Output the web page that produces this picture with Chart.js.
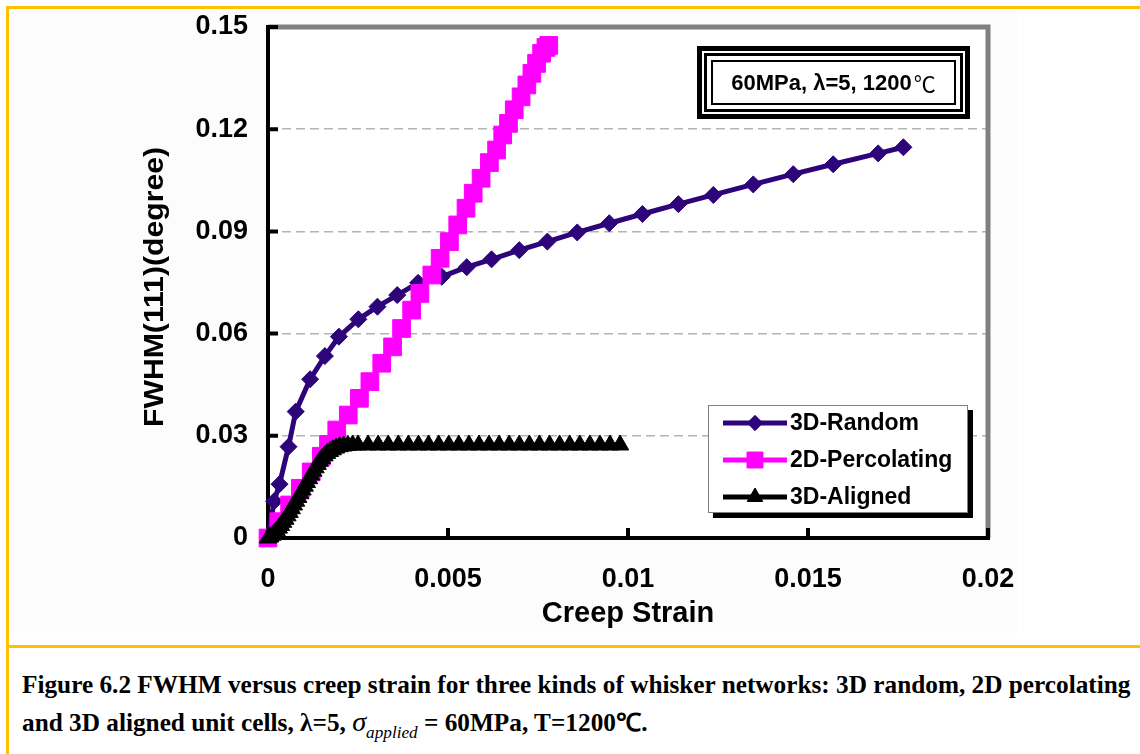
<!DOCTYPE html>
<html>
<head>
<meta charset="utf-8">
<script src="https://cdn.jsdelivr.net/npm/chart.js@4.4.1/dist/chart.umd.min.js"></script>
<style>
  html, body { margin: 0; padding: 0; background: #fff; }
  #page { position: relative; width: 1140px; height: 754px; overflow: hidden; background: #fff; }
  #chart { position: absolute; left: 0; top: 0; }
  .rule { position: absolute; background: #FFC000; }
  .cap {
    position: absolute; left: 22px; white-space: nowrap;
    font-family: 'Liberation Serif', 'Times New Roman', serif;
    font-weight: bold; font-size: 25px; line-height: 30px; color: #000;
    transform-origin: 0 50%;
  }
  .sig { font-style: italic; font-weight: normal; font-size: 28px; }
  .sub { font-style: italic; font-weight: normal; font-size: 17px; position: relative; top: 7px; }
</style>
</head>
<body>
<div id="page">
  <canvas id="chart" width="1140" height="647"></canvas>
  <div class="rule" style="left:6px;top:6px;width:1134px;height:3px"></div>
  <div class="rule" style="left:6px;top:6px;width:3px;height:748px"></div>
  <div class="rule" style="left:6px;top:645px;width:1134px;height:3px"></div>
  <div class="cap" id="cap1" style="top:670px">Figure 6.2 FWHM versus creep strain for three kinds of whisker networks: 3D random, 2D percolating</div>
  <div class="cap" id="cap2" style="top:707px">and 3D aligned unit cells, λ=5, <span class="sig">σ</span><span class="sub">applied</span> = 60MPa, T=1200℃.</div>
</div>
<script>
// Axis ticks
const xTickValues = [0, 0.005, 0.01, 0.015, 0.02];
const xTickLabels = ['0', '0.005', '0.01', '0.015', '0.02'];
const yTickValues = [0, 0.03, 0.06, 0.09, 0.12, 0.15];
const yTickLabels = ['0', '0.03', '0.06', '0.09', '0.12', '0.15'];

const seriesNames = ['3D-Random', '2D-Percolating', '3D-Aligned'];
const yAxisTitle = 'FWHM(111)(degree)';

// 3D random network
const randomStrain = [0, 0.00017, 0.00032, 0.00057, 0.00077, 0.00117, 0.00158, 0.00197, 0.00251,
  0.00304, 0.00359, 0.00417, 0.00483, 0.00552, 0.00621, 0.00698, 0.00776, 0.00859, 0.00948,
  0.01040, 0.01140, 0.01237, 0.01348, 0.01459, 0.01570, 0.01695, 0.01765];
const randomFwhm = [0, 0.0108, 0.0158, 0.0268, 0.0371, 0.0466, 0.0534, 0.0591, 0.0642,
  0.0679, 0.0713, 0.0749, 0.0767, 0.0795, 0.0818, 0.0845, 0.0870, 0.0897, 0.0924,
  0.0951, 0.0980, 0.1007, 0.1038, 0.1068, 0.1097, 0.1129, 0.1147];

// 2D percolating network
const percStrain = [0, 0.00030, 0.00060, 0.00090, 0.00120, 0.00148, 0.00168, 0.00191, 0.00223,
  0.00254, 0.00283, 0.00316, 0.00346, 0.00371, 0.00399, 0.00422, 0.00455, 0.00478, 0.00504,
  0.00527, 0.00550, 0.00570, 0.00592, 0.00615, 0.00635, 0.00652, 0.00668, 0.00684, 0.00703,
  0.00719, 0.00733, 0.00746, 0.00760, 0.00772, 0.00780];
const percFwhm = [0, 0.0048, 0.0097, 0.0146, 0.0194, 0.0240, 0.0275, 0.0317, 0.0361,
  0.0410, 0.0459, 0.0513, 0.0561, 0.0615, 0.0669, 0.0718, 0.0772, 0.0821, 0.0870,
  0.0919, 0.0968, 0.1012, 0.1056, 0.1102, 0.1139, 0.1183, 0.1217, 0.1257, 0.1295,
  0.1330, 0.1364, 0.1393, 0.1423, 0.1440, 0.1446];

// 3D aligned network
const alignedStrain = [0, 0.00006, 0.00012, 0.00018, 0.00024, 0.00030, 0.00036, 0.00042, 0.00048,
  0.00054, 0.00060, 0.00066, 0.00072, 0.00078, 0.00084, 0.00090, 0.00096, 0.00102, 0.00108,
  0.00114, 0.00120, 0.00126, 0.00132, 0.00138, 0.00144, 0.00150, 0.00157, 0.00164, 0.00172,
  0.00180, 0.00189, 0.00199, 0.00210, 0.00222, 0.00235, 0.00250, 0.00278, 0.00306, 0.00334,
  0.00362, 0.00390, 0.00418, 0.00446, 0.00474, 0.00502, 0.00530, 0.00558, 0.00586, 0.00614,
  0.00642, 0.00670, 0.00698, 0.00726, 0.00754, 0.00782, 0.00810, 0.00838, 0.00866, 0.00894,
  0.00922, 0.00950, 0.00978];
const alignedFwhm = [0, 0.0003, 0.0008, 0.0014, 0.0021, 0.0029, 0.0037, 0.0046, 0.0055,
  0.0065, 0.0075, 0.0086, 0.0097, 0.0108, 0.0119, 0.0130, 0.0141, 0.0152, 0.0163,
  0.0174, 0.0185, 0.0196, 0.0206, 0.0216, 0.0225, 0.0233, 0.0241, 0.0248, 0.0254,
  0.0259, 0.0264, 0.0268, 0.0270, 0.0272, 0.0273, 0.0273, 0.0273, 0.0273, 0.0273,
  0.0273, 0.0273, 0.0273, 0.0273, 0.0273, 0.0273, 0.0273, 0.0273, 0.0273, 0.0273,
  0.0273, 0.0273, 0.0273, 0.0273, 0.0273, 0.0273, 0.0273, 0.0273, 0.0273, 0.0273,
  0.0273, 0.0273, 0.0273];

const conditionText = '60MPa, λ=5, 1200';
const conditionUnit = '℃';

const toPoints = (xs, ys) => xs.map((x, i) => ({ x: x, y: ys[i] }));

const SANS = "'Liberation Sans', Arial, sans-serif";

const styles = [
  { color: '#2D0479', pointStyle: 'rectRot', radius: 8.5, line: 5 },
  { color: '#FF00FF', pointStyle: 'rect', radius: 12.5, line: 5 },
  { color: '#000000', pointStyle: 'triangle', radius: 10, line: 5 }
];

// Frame, inner tick marks, background, y title, condition box and legend
const framePlugin = {
  id: 'frame',
  beforeDraw(chart) {
    const ctx = chart.ctx, a = chart.chartArea;
    ctx.save();
    ctx.fillStyle = '#FCFCFC';
    ctx.fillRect(9, 9, 1008, 624);
    ctx.fillStyle = '#FFFFFF';
    ctx.fillRect(a.left, a.top, a.right - a.left, a.bottom - a.top);
    ctx.restore();
  },
  beforeDatasetsDraw(chart) {
    const ctx = chart.ctx, a = chart.chartArea;
    const xs = chart.scales.x, ys = chart.scales.y;
    ctx.save();
    ctx.lineCap = 'butt';
    // grey top and right border
    ctx.strokeStyle = '#808080';
    ctx.lineWidth = 5;
    ctx.beginPath();
    ctx.moveTo(a.left, a.top);
    ctx.lineTo(a.right, a.top);
    ctx.lineTo(a.right, a.bottom);
    ctx.stroke();
    // black axes
    ctx.strokeStyle = '#000';
    ctx.lineWidth = 4;
    ctx.beginPath();
    ctx.moveTo(a.left, a.top - 2);
    ctx.lineTo(a.left, a.bottom);
    ctx.lineTo(a.right + 2, a.bottom);
    ctx.stroke();
    // inward tick marks
    ctx.beginPath();
    yTickValues.forEach(v => {
      const py = ys.getPixelForValue(v);
      ctx.moveTo(a.left, py);
      ctx.lineTo(a.left + 10, py);
    });
    xTickValues.forEach(v => {
      const px = xs.getPixelForValue(v);
      ctx.moveTo(px, a.bottom);
      ctx.lineTo(px, a.bottom - 10);
    });
    ctx.stroke();

    // vertical axis title, stretched along its length
    ctx.font = 'bold 28px ' + SANS;
    const tw = ctx.measureText(yAxisTitle).width;
    ctx.translate(155, 287);
    ctx.rotate(-Math.PI / 2);
    ctx.scale(280 / tw, 1);
    ctx.fillStyle = '#000';
    ctx.textAlign = 'center';
    ctx.textBaseline = 'middle';
    ctx.fillText(yAxisTitle, 0, 0);
    ctx.restore();
  },
  afterDatasetsDraw(chart) {
    const ctx = chart.ctx;
    ctx.save();
    // condition box with layered border
    const bx = 697, by = 46, bw = 273, bh = 73;
    const layers = [[0, '#000'], [5, '#fff'], [7, '#000'], [10, '#fff'], [14, '#000'], [16, '#fff']];
    layers.forEach(([d, c]) => {
      ctx.fillStyle = c;
      ctx.fillRect(bx + d, by + d, bw - 2 * d, bh - 2 * d);
    });
    const boldFont = 'bold 22px ' + SANS;
    const unitFont = "22px 'Noto Sans CJK SC', " + SANS;
    ctx.font = boldFont;
    const w1 = ctx.measureText(conditionText).width;
    ctx.font = unitFont;
    const w2 = ctx.measureText(conditionUnit).width;
    const tx = bx + bw / 2 - (w1 + w2 + 2) / 2;
    const ty = by + bh / 2 + 1;
    ctx.fillStyle = '#000';
    ctx.textBaseline = 'middle';
    ctx.textAlign = 'left';
    ctx.font = boldFont;
    ctx.fillText(conditionText, tx, ty);
    ctx.font = unitFont;
    ctx.fillText(conditionUnit, tx + w1 + 2, ty);

    // legend with drop shadow
    const lx = 708, ly = 405, lw = 260, lh = 108;
    ctx.fillStyle = '#000';
    ctx.fillRect(lx + 5, ly + 5, lw, lh);
    ctx.fillStyle = '#fff';
    ctx.fillRect(lx, ly, lw, lh);
    ctx.strokeStyle = '#808080';
    ctx.lineWidth = 1;
    ctx.strokeRect(lx + 0.5, ly + 0.5, lw - 1, lh - 1);
    ctx.font = 'bold 23px ' + SANS;
    chart.data.datasets.forEach((ds, i) => {
      const yy = 423 + i * 37;
      const st = styles[i];
      ctx.strokeStyle = st.color;
      ctx.lineWidth = 5;
      ctx.beginPath();
      ctx.moveTo(723, yy);
      ctx.lineTo(787, yy);
      ctx.stroke();
      ctx.fillStyle = st.color;
      ctx.strokeStyle = st.color;
      ctx.lineWidth = 1;
      Chart.helpers.drawPoint(ctx, { pointStyle: st.pointStyle, radius: st.radius * 0.9, borderWidth: 1, rotation: 0 }, 755, yy);
      ctx.fillStyle = '#000';
      ctx.textBaseline = 'middle';
      ctx.fillText(ds.label, 790, yy + 1);
    });
    ctx.restore();
  }
};

const datasets = [
  { data: toPoints(randomStrain, randomFwhm), order: 3 },
  { data: toPoints(percStrain, percFwhm), order: 2 },
  { data: toPoints(alignedStrain, alignedFwhm), order: 1 }
].map((d, i) => Object.assign(d, {
  label: seriesNames[i],
  borderColor: styles[i].color,
  backgroundColor: styles[i].color,
  pointBackgroundColor: styles[i].color,
  pointBorderColor: styles[i].color,
  pointStyle: styles[i].pointStyle,
  pointRadius: styles[i].radius,
  pointBorderWidth: 1,
  borderWidth: styles[i].line,
  showLine: true,
  tension: 0,
  clip: false
}));

new Chart(document.getElementById('chart'), {
  type: 'scatter',
  data: { datasets: datasets },
  plugins: [framePlugin],
  options: {
    responsive: false,
    animation: false,
    devicePixelRatio: 1,
    layout: { padding: { left: 137, right: 152, top: 27, bottom: 16 } },
    plugins: { legend: { display: false }, tooltip: { enabled: false } },
    scales: {
      x: {
        type: 'linear', min: 0, max: 0.02,
        afterBuildTicks(s) { s.ticks = xTickValues.map(v => ({ value: v })); },
        afterFit(s) { s.height = 93; s.paddingLeft = 0; s.paddingRight = 0; },
        grid: { display: false, drawTicks: false },
        border: { display: false },
        ticks: {
          padding: 25, color: '#000', maxRotation: 0,
          font: { family: SANS, size: 27, weight: 'bold' },
          callback: (v, i) => xTickLabels[i]
        },
        title: {
          display: true, text: 'Creep Strain', color: '#000', padding: 0,
          font: { family: SANS, size: 29, weight: 'bold' }
        }
      },
      y: {
        type: 'linear', min: 0, max: 0.15,
        afterBuildTicks(s) { s.ticks = yTickValues.map(v => ({ value: v })); },
        afterFit(s) { s.width = 131; s.paddingTop = 0; s.paddingBottom = 0; },
        grid: {
          drawTicks: false, lineWidth: 1.5,
          color: c => (c.index === 0 || c.index === yTickValues.length - 1) ? 'rgba(0,0,0,0)' : '#B4B4B4'
        },
        border: { display: false, dash: [9, 5] },
        ticks: {
          padding: 20, color: '#000',
          font: { family: SANS, size: 27, weight: 'bold' },
          callback: (v, i) => yTickLabels[i]
        },
        title: { display: false }
      }
    }
  }
});

// fit caption lines to the frame width
function fitCaption() {
  const c1 = document.getElementById('cap1');
  const c2 = document.getElementById('cap2');
  const k = 1108 / c1.scrollWidth;
  c1.style.transform = 'scaleX(' + k + ')';
  c2.style.transform = 'scaleX(' + k + ')';
}
if (document.fonts && document.fonts.ready) document.fonts.ready.then(fitCaption);
fitCaption();
</script>
</body>
</html>
